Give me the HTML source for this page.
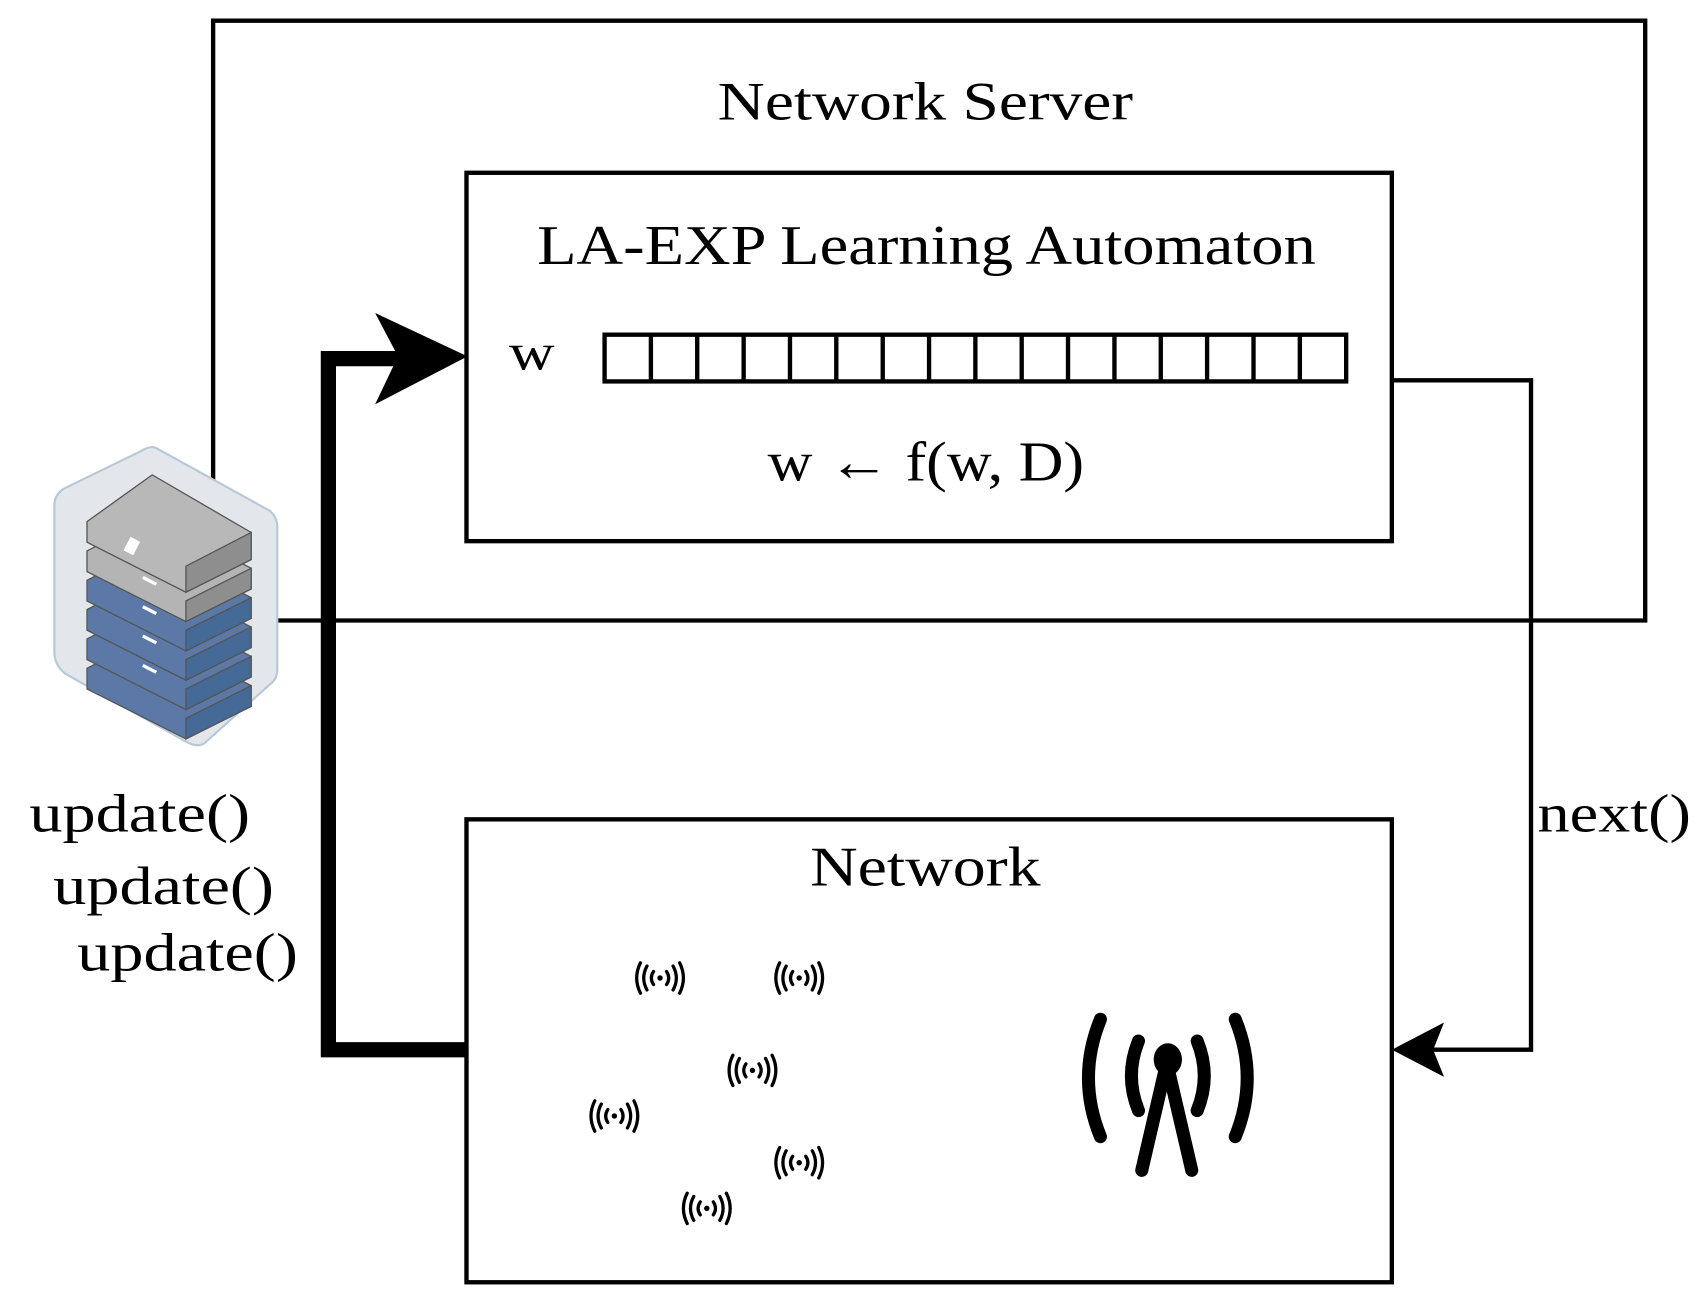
<!DOCTYPE html>
<html><head><style>html,body{margin:0;padding:0;background:#fff}svg{display:block}</style></head>
<body>
<svg width="1705" height="1304" viewBox="0 0 1568 1200" preserveAspectRatio="none" xmlns="http://www.w3.org/2000/svg">
<defs>
<g id="wf" fill="none" stroke="#000" stroke-width="3" stroke-linecap="round">
<circle cx="0" cy="0" r="2.5" fill="#000" stroke="none"/>
<path d="M-6,-6 Q-10,0 -6,6 M6,-6 Q10,0 6,6"/>
<path d="M-12,-11 Q-18,0 -12,11 M12,-11 Q18,0 12,11"/>
<path d="M-18,-14 Q-25,0 -18,14 M18,-14 Q25,0 18,14"/>
</g>
</defs>
<g font-family="'Liberation Serif', serif" fill="#000">
<path d="M196,448 L196,19 L1513,19 L1513,571 L255,571" fill="none" stroke="#000" stroke-width="4"/>
<text x="660" y="110" font-size="50" textLength="382" lengthAdjust="spacingAndGlyphs">Network Server</text>
<rect x="429" y="159" width="851" height="339" fill="none" stroke="#000" stroke-width="4"/>
<text x="494" y="243" font-size="52" textLength="716" lengthAdjust="spacingAndGlyphs">LA-EXP Learning Automaton</text>
<text x="468" y="340" font-size="48" textLength="42" lengthAdjust="spacingAndGlyphs">w</text>
<g fill="none" stroke="#000" stroke-width="4">
<rect x="556" y="308" width="682" height="43"/>
<path d="M598.6,308V351M641.2,308V351M683.9,308V351M726.5,308V351M769.1,308V351M811.8,308V351M854.4,308V351M897,308V351M939.6,308V351M982.2,308V351M1024.9,308V351M1067.5,308V351M1110.1,308V351M1152.8,308V351M1195.4,308V351"/>
</g>
<text x="706" y="442" font-size="52" textLength="291" lengthAdjust="spacingAndGlyphs">w ← f(w, D)</text>
<path d="M1280,350 L1408,350 L1408,966 L1300,966" fill="none" stroke="#000" stroke-width="4"/>
<path d="M1280,966 L1328,941 L1318,966 L1328,991 Z" fill="#000"/>
<text x="1414" y="765" font-size="50" textLength="141" lengthAdjust="spacingAndGlyphs">next()</text>
<rect x="429" y="754" width="851" height="426" fill="none" stroke="#000" stroke-width="4"/>
<text x="745" y="815" font-size="52" textLength="212" lengthAdjust="spacingAndGlyphs">Network</text>
<path d="M429,966 L302,966 L302,330 L380,330" fill="none" stroke="#000" stroke-width="14"/>
<path d="M430,328 L345,288 L366,328 L345,372 Z" fill="#000"/>
<text x="27" y="765" font-size="50" textLength="203" lengthAdjust="spacingAndGlyphs">update()</text>
<text x="49" y="832" font-size="50" textLength="203" lengthAdjust="spacingAndGlyphs">update()</text>
<text x="71" y="893" font-size="50" textLength="203" lengthAdjust="spacingAndGlyphs">update()</text>
</g>
<use href="#wf" x="607" y="900"/>
<use href="#wf" x="735" y="900"/>
<use href="#wf" x="692" y="985"/>
<use href="#wf" x="565" y="1027"/>
<use href="#wf" x="735" y="1070"/>
<use href="#wf" x="650" y="1112"/>
<g fill="none" stroke="#000" stroke-width="12" stroke-linecap="round">
<path d="M1012,938 Q990,992 1012,1046"/>
<path d="M1136,938 Q1158,992 1136,1046"/>
<path d="M1047,958 Q1034,990 1047,1022"/>
<path d="M1101,958 Q1114,990 1101,1022"/>
<path d="M1050,1077 L1073,978 L1096,1077"/>
</g>
<ellipse cx="1074" cy="975" rx="13" ry="15" fill="#000"/>
<path d="M143,412 L248,470 Q255,476 255,485 L255,616 Q255,625 248,630 L188,684 Q181,688 172,683 L60,620 Q50,612 50,600 L50,465 Q50,456 58,450 L130,415 Q138,410 143,412 Z" fill="#e3e7ec" stroke="#b8c8d8" stroke-width="2"/>
<g stroke="#555" stroke-width="1.2">
<path d="M80,615 L140,584 L231,631 L231,650 L171,680 L80,634 Z" fill="#5b78a6"/>
<path d="M171,661 L231,631 L231,650 L171,680 Z" fill="#456a98"/>
<path d="M80,588 L140,557 L231,604 L231,623 L171,653 L80,607 Z" fill="#5b78a6"/>
<path d="M171,634 L231,604 L231,623 L171,653 Z" fill="#456a98"/>
<path d="M80,561 L140,530 L231,577 L231,596 L171,626 L80,580 Z" fill="#5b78a6"/>
<path d="M171,607 L231,577 L231,596 L171,626 Z" fill="#456a98"/>
<path d="M80,534 L140,503 L231,550 L231,569 L171,599 L80,553 Z" fill="#5b78a6"/>
<path d="M171,580 L231,550 L231,569 L171,599 Z" fill="#456a98"/>
<path d="M80,507 L140,476 L231,523 L231,542 L171,572 L80,526 Z" fill="#b4b4b4"/>
<path d="M171,553 L231,523 L231,542 L171,572 Z" fill="#8e8e8e"/>
<path d="M80,480 L140,437 L231,490 L231,515 L171,545 L80,499 Z" fill="#b8b8b8"/>
<path d="M171,521 L231,490 L231,515 L171,545 Z" fill="#8e8e8e"/>
</g>
<g fill="#fff">
<rect x="132" y="530" width="14" height="3" transform="rotate(27 132 530)"/>
<rect x="132" y="557" width="14" height="3" transform="rotate(27 132 557)"/>
<rect x="132" y="584" width="14" height="3" transform="rotate(27 132 584)"/>
<rect x="132" y="611" width="14" height="3" transform="rotate(27 132 611)"/>
<rect x="120" y="494" width="10" height="14" transform="rotate(27 120 494)"/>
</g>
</svg>
</body></html>
